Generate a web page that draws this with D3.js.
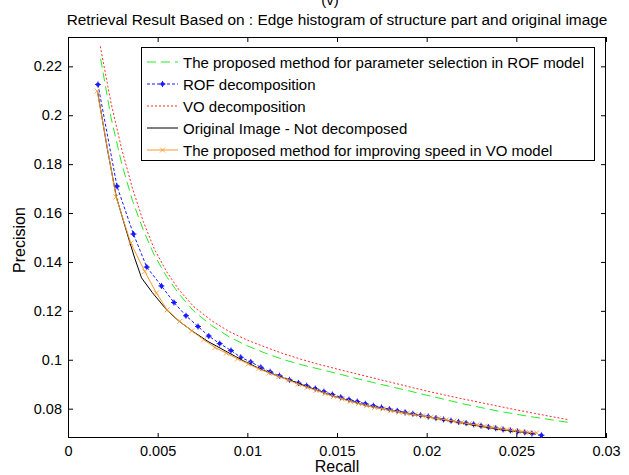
<!DOCTYPE html>
<html><head><meta charset="utf-8">
<script src="https://cdn.jsdelivr.net/npm/d3@7"></script>
<style>body{margin:0;background:#fff}svg{display:block}text{font-family:"Liberation Sans",Arial,sans-serif}</style>
</head><body><svg id="c" width="629" height="475"></svg>
<script>
const titleText = "Retrieval Result Based on : Edge histogram of structure part and original image";
const xLabel = "Recall", yLabel = "Precision";
const xTicks = [0, 0.005, 0.01, 0.015, 0.02, 0.025, 0.03];
const yTicks = [0.08, 0.1, 0.12, 0.14, 0.16, 0.18, 0.2, 0.22];
const seriesNames = [
  "The proposed method for parameter selection in ROF model",
  "ROF decomposition",
  "VO decomposition",
  "Original Image - Not decomposed",
  "The proposed method for improving speed in VO model"
];
// [recall, precision]
const greenPts = [[0.00182,0.2231],[0.0024,0.1990],[0.0030,0.1800],[0.0036,0.1650],[0.0042,0.1530],[0.0048,0.1430],[0.0055,0.1340],[0.0062,0.1268],[0.0070,0.1200],[0.0080,0.1140],[0.0090,0.1093],[0.0100,0.1057],[0.0110,0.1027],[0.0120,0.1001],[0.0130,0.0980],[0.0140,0.0962],[0.0150,0.0944],[0.0160,0.0925],[0.0170,0.0907],[0.0180,0.0890],[0.0190,0.0873],[0.0200,0.0855],[0.0210,0.0838],[0.0220,0.0820],[0.0230,0.0805],[0.0240,0.0790],[0.0250,0.0777],[0.0260,0.0765],[0.0270,0.0754],[0.0279,0.0744]];
const bluePts = [[0.00167,0.2126],[0.00273,0.1710],[0.00365,0.1514],[0.00439,0.1379],[0.00521,0.1302],[0.00591,0.1234],[0.00658,0.1180],[0.00725,0.1136],[0.00785,0.1097],[0.00846,0.1066],[0.00909,0.1038],[0.00963,0.1010],[0.01019,0.0991],[0.01075,0.0969],[0.01127,0.0951],[0.01179,0.0935],[0.01235,0.0918],[0.01285,0.0905],[0.01331,0.0894],[0.01379,0.0882],[0.01427,0.0870],[0.01474,0.0858],[0.01521,0.0847],[0.01567,0.0837],[0.01613,0.0829],[0.01658,0.0820],[0.01703,0.0812],[0.01748,0.0805],[0.01792,0.0798],[0.01836,0.0791],[0.01880,0.0785],[0.01923,0.0779],[0.01966,0.0773],[0.02009,0.0768],[0.02052,0.0762],[0.02094,0.0756],[0.02136,0.0751],[0.02178,0.0746],[0.02220,0.0741],[0.02262,0.0736],[0.02303,0.0730],[0.02344,0.0725],[0.02385,0.0720],[0.02426,0.0715],[0.02467,0.0711],[0.02507,0.0707],[0.02547,0.0703],[0.02587,0.0698],[0.02640,0.0691]];
const redPts = [[0.0018,0.2282],[0.0024,0.2050],[0.0030,0.1860],[0.0036,0.1700],[0.0042,0.1565],[0.0048,0.1455],[0.0055,0.1360],[0.0062,0.1285],[0.0070,0.1218],[0.0080,0.1160],[0.0090,0.1115],[0.0100,0.1080],[0.0110,0.1052],[0.0120,0.1025],[0.0130,0.1002],[0.0140,0.0981],[0.0150,0.0962],[0.0160,0.0944],[0.0170,0.0926],[0.0180,0.0908],[0.0190,0.0890],[0.0200,0.0872],[0.0210,0.0856],[0.0220,0.0840],[0.0230,0.0825],[0.0240,0.0810],[0.0250,0.0795],[0.0260,0.0781],[0.0270,0.0767],[0.0279,0.0755]];
const blackPts = [[0.00166,0.2092],[0.0022,0.1860],[0.0027,0.1665],[0.0033,0.1516],[0.0037,0.1420],[0.0041,0.1335],[0.0047,0.1275],[0.0055,0.1204],[0.0062,0.1157],[0.0070,0.1114],[0.0078,0.1075],[0.0088,0.1035],[0.0098,0.0995],[0.0107,0.0963],[0.0116,0.0936],[0.0125,0.0913],[0.0134,0.0888],[0.0148,0.0851],[0.0166,0.0813],[0.0185,0.0785],[0.0204,0.0762],[0.0222,0.0738],[0.0241,0.0714],[0.0259,0.0699]];
const orangePts = [[0.00163,0.2099],[0.00268,0.1666],[0.00350,0.1477],[0.00428,0.1361],[0.00493,0.1273],[0.00553,0.1204],[0.00623,0.1157],[0.00690,0.1118],[0.00757,0.1082],[0.00820,0.1050],[0.00883,0.1027],[0.00945,0.1004],[0.01005,0.0983],[0.01063,0.0963],[0.01120,0.0946],[0.01176,0.0931],[0.01230,0.0917],[0.01283,0.0900],[0.01334,0.0887],[0.01384,0.0875],[0.01433,0.0862],[0.01481,0.0850],[0.01528,0.0840],[0.01574,0.0830],[0.01620,0.0821],[0.01665,0.0812],[0.01710,0.0805],[0.01755,0.0799],[0.01800,0.0792],[0.01845,0.0786],[0.01890,0.0780],[0.01934,0.0775],[0.01978,0.0770],[0.02022,0.0765],[0.02066,0.0759],[0.02109,0.0754],[0.02152,0.0749],[0.02195,0.0743],[0.02238,0.0738],[0.02280,0.0733],[0.02322,0.0728],[0.02364,0.0723],[0.02406,0.0718],[0.02448,0.0714],[0.02490,0.0710],[0.02531,0.0706],[0.02572,0.0703],[0.02613,0.0701]];

const L=68, R=606, T=37, B=438;
const svg = d3.select("#c");
const x = d3.scaleLinear().domain([0,0.03]).range([L,R]);
const y = d3.scaleLinear().domain([0.068,0.232]).range([B,T]);

// top label, partially cut in the reference
svg.append("text").attr("x",330).attr("y",5).attr("text-anchor","middle").style("font-size","15px").text("(v)");
svg.append("text").attr("x",337).attr("y",25).attr("text-anchor","middle").style("font-size","15.4px").text(titleText);

const fmt = d => d===0 ? "0" : String(+d.toFixed(3));
const gx = svg.append("g").attr("transform",`translate(0,${B})`).call(d3.axisBottom(x).tickValues(xTicks).tickSize(-5).tickPadding(8).tickFormat(fmt));
const gxt = svg.append("g").attr("transform",`translate(0,${T})`).call(d3.axisTop(x).tickValues(xTicks).tickSize(-5).tickFormat(""));
const gy = svg.append("g").attr("transform",`translate(${L},0)`).call(d3.axisLeft(y).tickValues(yTicks).tickSize(-5).tickPadding(6).tickFormat(fmt));
const gyr = svg.append("g").attr("transform",`translate(${R},0)`).call(d3.axisRight(y).tickValues(yTicks).tickSize(-5).tickFormat(""));
[gx,gxt,gy,gyr].forEach(g=>{
  g.select(".domain").remove();
  g.selectAll(".tick line").attr("stroke","#000");
  g.selectAll("text").style("font-size","14.5px").attr("fill","#000").style("font-family","'Liberation Sans',Arial,sans-serif");
});
svg.append("rect").attr("x",L+0.5).attr("y",T+0.5).attr("width",R-L-1).attr("height",B-T-1).attr("fill","none").attr("stroke","#000");

svg.append("text").attr("x",337).attr("y",472).attr("text-anchor","middle").style("font-size","16px").text(xLabel);
svg.append("text").attr("transform","translate(25,240) rotate(-90)").attr("text-anchor","middle").style("font-size","16px").text(yLabel);

svg.append("defs").append("clipPath").attr("id","clip").append("rect").attr("x",L).attr("y",T).attr("width",R-L).attr("height",B-T);
const plot = svg.append("g").attr("clip-path","url(#clip)");
const line = d3.line().x(d=>x(d[0])).y(d=>y(d[1]));

const styles = [
  {pts:greenPts, color:"#22ee22", dash:"9,5", marker:null},
  {pts:bluePts, color:"#1a1aff", dash:"3,2", marker:"star"},
  {pts:redPts, color:"#ff2a2a", dash:"2,2", marker:null},
  {pts:blackPts, color:"#000", dash:null, marker:null},
  {pts:orangePts, color:"#f59a2e", dash:null, marker:"x"}
];
function drawMarker(g, type, cx, cy, color){
  if(type==="star"){
    g.append("circle").attr("cx",cx).attr("cy",cy).attr("r",2).attr("fill",color);
    g.append("path").attr("d",`M${cx-3},${cy}H${cx+3}M${cx},${cy-3}V${cy+3}`).attr("stroke",color).attr("stroke-width",1);
  } else if(type==="x"){
    g.append("path").attr("d",`M${cx-2.5},${cy-2.5}L${cx+2.5},${cy+2.5}M${cx-2.5},${cy+2.5}L${cx+2.5},${cy-2.5}`).attr("stroke",color).attr("stroke-width",1).attr("opacity",0.85);
  }
}
styles.forEach(s=>{
  plot.append("path").datum(s.pts).attr("d",line).attr("fill","none").attr("stroke",s.color).attr("stroke-width",1).attr("stroke-dasharray",s.dash);
  if(s.marker){
    const mg = plot.append("g");
    s.pts.forEach(p=>drawMarker(mg, s.marker, x(p[0]), y(p[1]), s.color));
  }
});

// legend
const lg = svg.append("g");
lg.append("rect").attr("x",141.5).attr("y",47.5).attr("width",453).attr("height",113).attr("fill","#fff").attr("stroke","#000");
styles.forEach((s,i)=>{
  const cy = 62 + i*22;
  lg.append("path").attr("d",`M147,${cy}H178`).attr("stroke",s.color).attr("stroke-width",1).attr("stroke-dasharray",s.dash).attr("fill","none");
  if(s.marker) drawMarker(lg, s.marker, 162.5, cy, s.color);
  lg.append("text").attr("x",183).attr("y",cy+5.5).style("font-size","15px").text(seriesNames[i]);
});
</script></body></html>
